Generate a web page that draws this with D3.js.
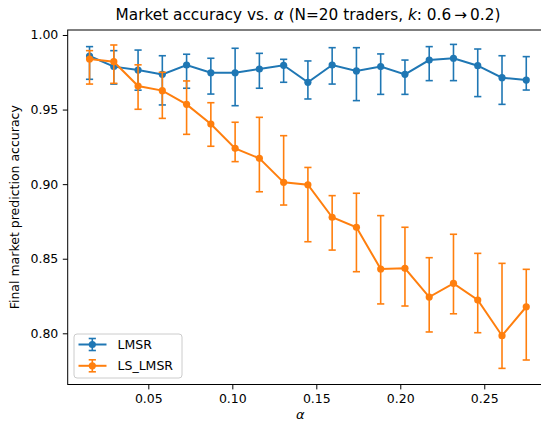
<!DOCTYPE html>
<html><head><meta charset="utf-8">
<script src="https://cdn.jsdelivr.net/npm/d3@7"></script>
<style>body{margin:0;background:#fff;} text{font-family:"DejaVu Sans",sans-serif;fill:#000;}</style>
</head><body>
<svg id="c" width="541" height="423"></svg>
<script>
const alphas = d3.range(19).map(i => +(0.015 + i*0.26/18).toFixed(5));
const lmsrMean = [0.9859,0.9788,0.9765,0.9736,0.9799,0.9747,0.9747,0.9772,0.9797,0.9683,0.9799,0.9759,0.9788,0.9736,0.9832,0.9844,0.9794,0.9714,0.9698];
const lmsrLow  = [0.9703,0.9671,0.9630,0.9531,0.9643,0.9604,0.9526,0.9643,0.9683,0.9571,0.9671,0.9560,0.9602,0.9602,0.9694,0.9694,0.9587,0.9535,0.9631];
const lmsrHigh = [0.9922,0.9895,0.9899,0.9861,0.9871,0.9844,0.9911,0.9877,0.9837,0.9826,0.9915,0.9915,0.9873,0.9832,0.9922,0.9937,0.9906,0.9861,0.9855];
const lsMean = [0.9839,0.9821,0.9658,0.9627,0.9535,0.9403,0.9240,0.9173,0.9012,0.8996,0.8778,0.8711,0.8431,0.8436,0.8243,0.8335,0.8223,0.7984,0.8178];
const lsLow  = [0.9671,0.9676,0.9502,0.9441,0.9334,0.9254,0.9151,0.8949,0.8860,0.8614,0.8558,0.8413,0.8197,0.8183,0.8009,0.8131,0.8004,0.7765,0.7821];
const lsHigh = [0.9895,0.9933,0.9800,0.9750,0.9692,0.9546,0.9415,0.9448,0.9325,0.9112,0.8923,0.8939,0.8789,0.8711,0.8507,0.8664,0.8536,0.8469,0.8429];
const xTicks = [0.05,0.10,0.15,0.20,0.25];
const yTicks = [0.80,0.85,0.90,0.95,1.00];
const seriesNames = ["LMSR","LS_LMSR"];
const colors = ["#1f77b4","#ff7f0e"];

const L=67.7, R=548.1, T=30, B=384.5;
const xmin=d3.min(alphas), xmax=d3.max(alphas), xm=(xmax-xmin)*0.05;
const x = d3.scaleLinear().domain([xmin-xm, xmax+xm]).range([L,R]);
const y = d3.scaleLinear().domain([0.76568, 1.00335]).range([B,T]);

const svg = d3.select("#c");
const g = svg.append("g");

const series = [
  {name:seriesNames[0], mean:lmsrMean, lo:lmsrLow, hi:lmsrHigh, color:colors[0]},
  {name:seriesNames[1], mean:lsMean, lo:lsLow, hi:lsHigh, color:colors[1]}
];

series.forEach(s => {
  const pts = alphas.map((a,i)=>({a, m:s.mean[i], lo:s.lo[i], hi:s.hi[i]}));
  const eg = g.append("g");
  pts.forEach(p => {
    eg.append("line").attr("x1",x(p.a)).attr("x2",x(p.a)).attr("y1",y(p.lo)).attr("y2",y(p.hi))
      .attr("stroke",s.color).attr("stroke-width",1.6);
    [p.lo,p.hi].forEach(v=>{
      eg.append("line").attr("x1",x(p.a)-3.6).attr("x2",x(p.a)+3.6).attr("y1",y(v)).attr("y2",y(v))
        .attr("stroke",s.color).attr("stroke-width",1.6);
    });
  });
  g.append("path").datum(pts)
    .attr("d", d3.line().x(d=>x(d.a)).y(d=>y(d.m)))
    .attr("fill","none").attr("stroke",s.color).attr("stroke-width",2);
  g.append("g").selectAll("circle").data(pts).join("circle")
    .attr("cx",d=>x(d.a)).attr("cy",d=>y(d.m)).attr("r",3.6).attr("fill",s.color);
});

// frame
svg.append("rect").attr("x",L).attr("y",T).attr("width",R-L).attr("height",B-T)
  .attr("fill","none").attr("stroke","#000").attr("stroke-width",1);

// axes
const xa = svg.append("g").attr("transform",`translate(0,${B})`)
  .call(d3.axisBottom(x).tickValues(xTicks).tickFormat(d3.format(".2f")).tickSize(4.9).tickPadding(4.5));
const ya = svg.append("g").attr("transform",`translate(${L},0)`)
  .call(d3.axisLeft(y).tickValues(yTicks).tickFormat(d3.format(".2f")).tickSize(4.9).tickPadding(4.5));
[xa,ya].forEach(a=>{
  a.select(".domain").remove();
  a.selectAll("text").style("font-family","DejaVu Sans").style("font-size","12.5px").attr("fill","#000");
  a.selectAll("line").attr("stroke","#000").attr("stroke-width",1);
});

// title
const t = svg.append("text").attr("x",308).attr("y",20).attr("text-anchor","middle").style("font-size","15.3px");
t.append("tspan").text("Market accuracy vs. ");
t.append("tspan").style("font-style","italic").text("α");
t.append("tspan").text(" (N=20 traders, ");
t.append("tspan").style("font-style","italic").text("k");
t.append("tspan").text(": 0.6\u2009→\u20090.2)");

// labels
svg.append("text").attr("x",(67.7+541)/2 - 4).attr("y",419).attr("text-anchor","middle")
  .style("font-size","13px").style("font-style","italic").text("α");
svg.append("text").attr("transform",`translate(19,${(T+B)/2}) rotate(-90)`).attr("text-anchor","middle")
  .style("font-size","12.5px").text("Final market prediction accuracy");

// legend
const lg = svg.append("g");
lg.append("rect").attr("x",74).attr("y",334).attr("width",108).attr("height",44).attr("rx",3)
  .attr("fill","#fff").attr("fill-opacity",0.8).attr("stroke","#ccc").attr("stroke-width",1);
series.forEach((s,i)=>{
  const cy = 344.5 + i*21.3, cx = 92.3;
  lg.append("line").attr("x1",78.5).attr("x2",106.5).attr("y1",cy).attr("y2",cy).attr("stroke",s.color).attr("stroke-width",2);
  lg.append("line").attr("x1",cx).attr("x2",cx).attr("y1",cy-6).attr("y2",cy+6).attr("stroke",s.color).attr("stroke-width",1.6);
  [cy-6,cy+6].forEach(v=>lg.append("line").attr("x1",cx-3.6).attr("x2",cx+3.6).attr("y1",v).attr("y2",v).attr("stroke",s.color).attr("stroke-width",1.6));
  lg.append("circle").attr("cx",cx).attr("cy",cy).attr("r",3.6).attr("fill",s.color);
  lg.append("text").attr("x",117.5).attr("y",cy+4.5).style("font-size","12.5px").text(s.name);
});
</script>
</body></html>
